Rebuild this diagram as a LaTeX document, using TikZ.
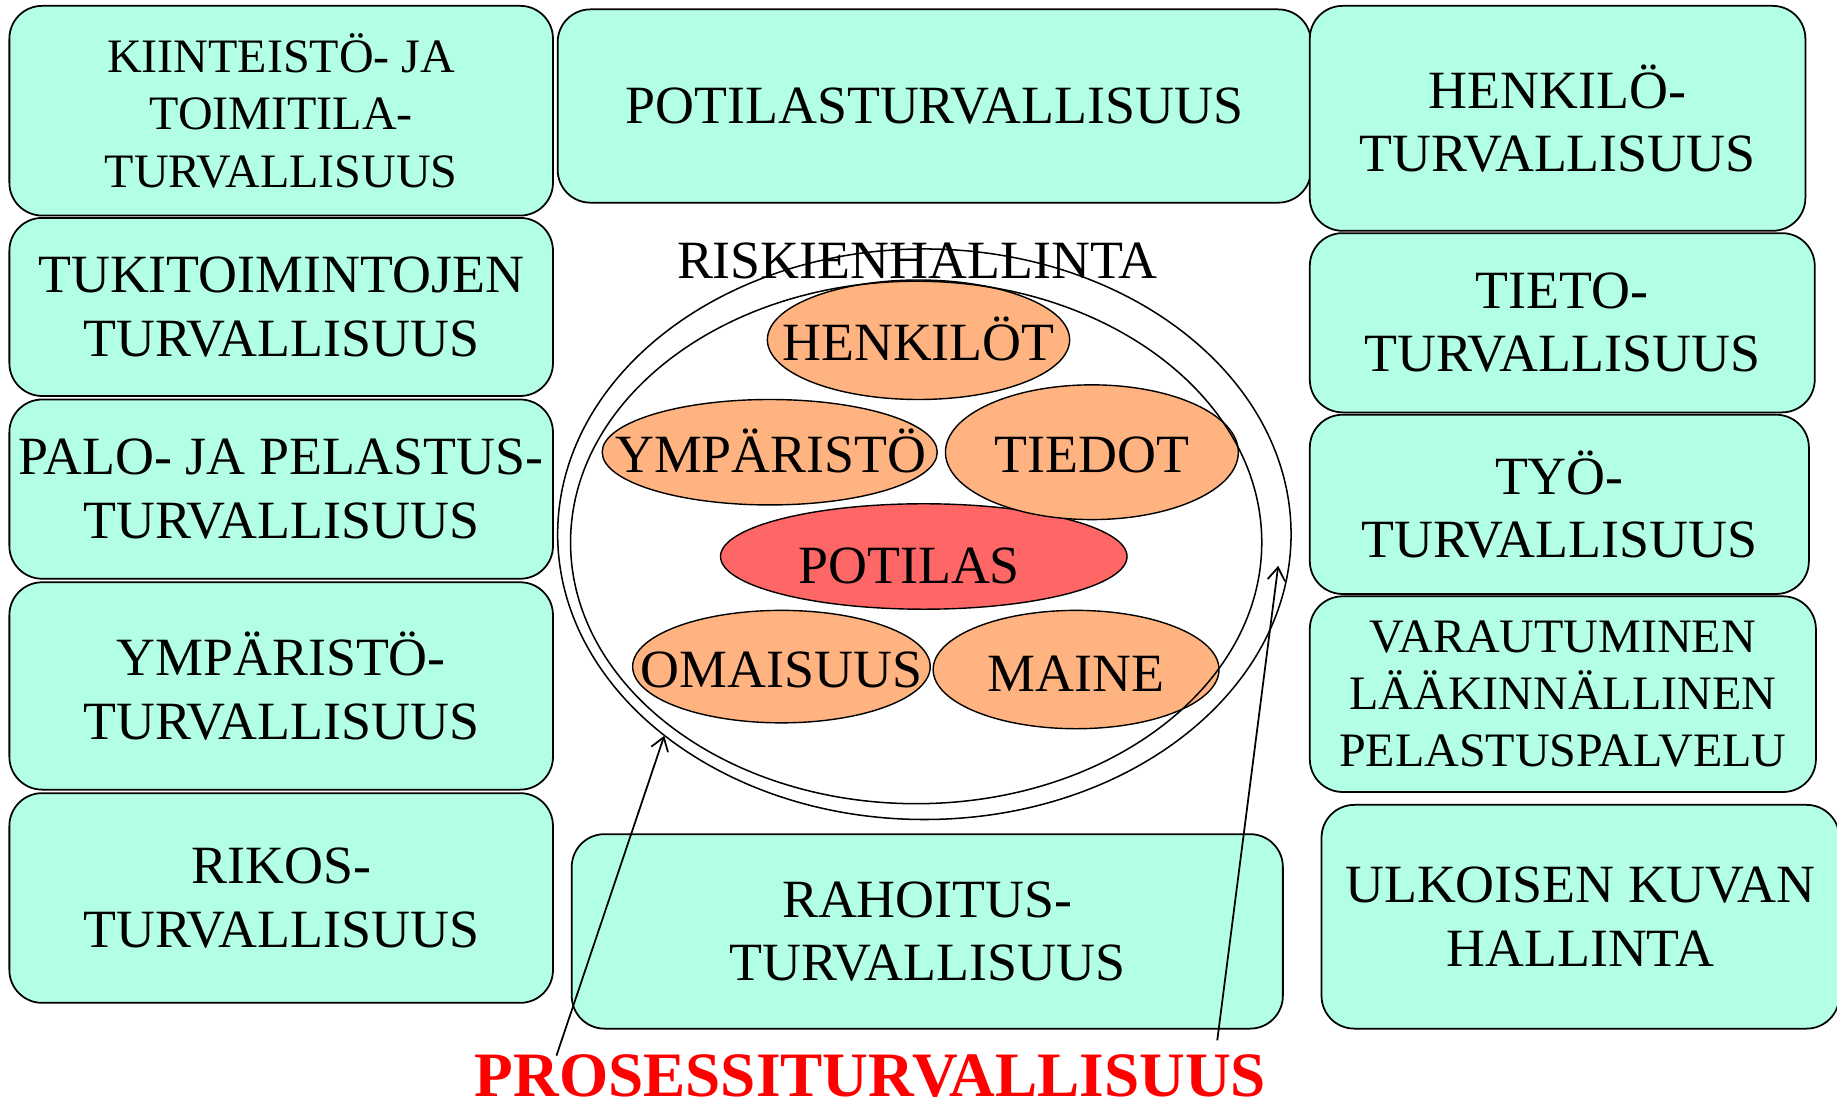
\documentclass[tikz,border=0pt]{standalone}
\usepackage{fontspec}
\setmainfont{Liberation Serif}
\usetikzlibrary{shapes.geometric,arrows.meta}
\definecolor{mint}{RGB}{179,255,227}
\definecolor{peach}{RGB}{255,179,128}
\definecolor{redfill}{RGB}{255,102,102}
\begin{document}
\begin{tikzpicture}[x=1pt,y=-1pt,
  box/.style={draw, line width=1.5pt, fill=mint, rounded corners=28pt, inner sep=0pt,
    align=center, font=\fontsize{46}{54}\selectfont},
  sz/.style 2 args={minimum width=#1pt, minimum height=#2pt},
  ell/.style={draw, ellipse, line width=1.2pt, inner sep=0pt},
  lbl/.style={anchor=base, inner sep=0pt, font=\fontsize{46}{54}\selectfont},
  ring/.style={draw, ellipse, line width=1.3pt, inner sep=0pt},
  arr/.style={line width=1.5pt, -{Straight Barb[length=11pt,width=15pt,line width=1.5pt]}}
]
\useasboundingbox (0,0) rectangle (1568,941);

% left column
\node[box, sz={464}{179}, font=\fontsize{41}{49}\selectfont] (l1) at (240,94.5) {KIINTEISTÖ- JA\\TOIMITILA-\\TURVALLISUUS};
\node[box, sz={464}{152}] (l2) at (240,262) {TUKITOIMINTOJEN\\TURVALLISUUS};
\node[box, sz={464}{153}] (l3) at (240,417.5) {PALO- JA PELASTUS-\\TURVALLISUUS};
\node[box, sz={464}{177}] (l4) at (240,585.5) {YMPÄRISTÖ-\\TURVALLISUUS};
\node[box, sz={464}{179}] (l5) at (240,766.5) {RIKOS-\\TURVALLISUUS};

% centre column
\node[box, sz={643}{165}] (c1) at (797.5,90.5) {POTILASTURVALLISUUS};
\node[box, sz={607}{166}] (c2) at (791.5,795) {RAHOITUS-\\TURVALLISUUS};

% right column
\node[box, sz={423}{192}] (r1) at (1329.5,101) {HENKILÖ-\\TURVALLISUUS};
\node[box, sz={431}{153}] (r2) at (1333.5,275.5) {TIETO-\\TURVALLISUUS};
\node[box, sz={426}{153}] (r3) at (1331,430.5) {TYÖ-\\TURVALLISUUS};
\node[box, sz={432}{167}, font=\fontsize{41}{48.5}\selectfont] (r4) at (1334,592.5) {VARAUTUMINEN\\LÄÄKINNÄLLINEN\\PELASTUSPALVELU};
\node[box, sz={442}{191}] (r5) at (1349,782.5) {ULKOISEN KUVAN\\HALLINTA};

% inner ellipses
\node[ell, fill=peach, minimum width=258pt, minimum height=102pt] (henk) at (784,290) {};
\node[ell, fill=peach, minimum width=286pt, minimum height=90pt] (ymp) at (657,386) {};
\node[ell, fill=redfill, minimum width=347pt, minimum height=90pt] (pot) at (788.5,475) {};
\node[ell, fill=peach, minimum width=250pt, minimum height=115pt] (tied) at (932,386) {};
\node[ell, fill=peach, minimum width=254pt, minimum height=96pt] (omai) at (667,569) {};
\node[ell, fill=peach, minimum width=244pt, minimum height=101pt] (main) at (918.5,571.5) {};

\node[lbl] (henkT) at (784,308) {HENKILÖT};
\node[lbl] (ympT) at (658,403) {YMPÄRISTÖ};
\node[lbl] (tiedT) at (932,403) {TIEDOT};
\node[lbl] (potT) at (776,498) {POTILAS};
\node[lbl] (omaiT) at (667,587) {OMAISUUS};
\node[lbl] (mainT) at (918.5,590) {MAINE};

% risk management rings
\node[lbl] (riski) at (783,238) {RISKIENHALLINTA};
\node[ring, minimum width=626pt, minimum height=487pt] (outer) at (789,456) {};
\node[ring, minimum width=590pt, minimum height=446pt] (inner) at (782,463) {};

% process security
\node[anchor=base, inner sep=0pt, text depth=0pt, text=red, font=\bfseries\fontsize{54}{60}\selectfont] (proc) at (743,936) {PROSESSITURVALLISUUS};
\coordinate (pl) at (475,901);
\coordinate (pr) at (1039,888);
\coordinate (tl) at (567,628);
\coordinate (tr) at (1091,483);
\draw[arr] (pl) -- (tl);
\draw[arr] (pr) -- (tr);
\end{tikzpicture}
\end{document}
